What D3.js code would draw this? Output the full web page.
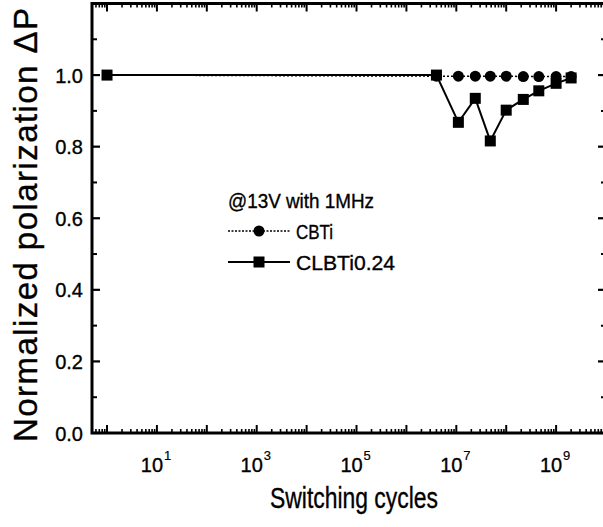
<!DOCTYPE html>
<html>
<head>
<meta charset="utf-8">
<script src="https://cdn.jsdelivr.net/npm/d3@7"></script>
<style>
  html, body { margin: 0; padding: 0; background: #fff; }
  svg { display: block; }
  text { font-family: "Liberation Sans", Arial, sans-serif; fill: #000; stroke: #000; stroke-width: 0.35px; }
</style>
</head>
<body>
<svg id="chart" width="603" height="527"></svg>
<script>
// Switching cycles (x) and normalized polarization (y) for each film
const cbtiCycles = [1, 4e6, 1.1e7, 2.4e7, 4.8e7, 1e8, 2.2e8, 4.5e8, 1e9, 2e9];
const cbtiValues = [1.0, 0.997, 0.997, 0.997, 0.997, 0.997, 0.996, 0.996, 0.996, 0.996];
const clbtiCycles = [1, 4e6, 1.1e7, 2.4e7, 4.8e7, 1e8, 2.2e8, 4.5e8, 1e9, 2e9];
const clbtiValues = [1.0, 1.0, 0.868, 0.935, 0.816, 0.902, 0.932, 0.956, 0.977, 0.992];

const xMajorTicks = [1, 1e1, 1e2, 1e3, 1e4, 1e5, 1e6, 1e7, 1e8, 1e9];
const xLabelExponents = [1, 3, 5, 7, 9];
const yMajorTicks = [0, 0.2, 0.4, 0.6, 0.8, 1.0];
const yMinorTicks = [0.1, 0.3, 0.5, 0.7, 0.9, 1.1];

const legendTitle = "@13V with 1MHz";
const seriesNames = ["CBTi", "CLBTi0.24"];
const xTitle = "Switching  cycles";
const yTitle = "Normalized  polarization  \u0394P";

const svg = d3.select("#chart");
const plotLeft = 92, plotRight = 606, plotTop = 3.5, plotBottom = 433;

const x = d3.scaleLog().domain([0.5, 1e10]).range([plotLeft, plotRight]);
const y = d3.scaleLinear().domain([0, 1.2]).range([plotBottom, plotTop]);

// minor log ticks: 2..9 within each decade
const xMinorTicks = [];
for (let e = -1; e <= 9; e++) {
  for (let k = 2; k <= 9; k++) {
    const v = k * Math.pow(10, e);
    if (v >= 0.5 && v <= 1e10) xMinorTicks.push(v);
  }
}

const axisG = svg.append("g").attr("stroke", "#000");

// inward ticks on all four sides
const majLen = 8, minLen = 4;
xMajorTicks.forEach(v => {
  axisG.append("line").attr("x1", x(v)).attr("x2", x(v)).attr("y1", plotBottom).attr("y2", plotBottom - majLen).attr("stroke-width", 2);
  axisG.append("line").attr("x1", x(v)).attr("x2", x(v)).attr("y1", plotTop).attr("y2", plotTop + majLen).attr("stroke-width", 2);
});
xMinorTicks.forEach(v => {
  axisG.append("line").attr("x1", x(v)).attr("x2", x(v)).attr("y1", plotBottom).attr("y2", plotBottom - minLen).attr("stroke-width", 1.6);
  axisG.append("line").attr("x1", x(v)).attr("x2", x(v)).attr("y1", plotTop).attr("y2", plotTop + minLen).attr("stroke-width", 1.6);
});
yMajorTicks.forEach(v => {
  axisG.append("line").attr("x1", plotLeft).attr("x2", plotLeft + majLen).attr("y1", y(v)).attr("y2", y(v)).attr("stroke-width", 2.2);
  axisG.append("line").attr("x1", plotRight).attr("x2", plotRight - majLen).attr("y1", y(v)).attr("y2", y(v)).attr("stroke-width", 2.2);
});
yMinorTicks.forEach(v => {
  axisG.append("line").attr("x1", plotLeft).attr("x2", plotLeft + minLen + 1).attr("y1", y(v)).attr("y2", y(v)).attr("stroke-width", 2);
  axisG.append("line").attr("x1", plotRight).attr("x2", plotRight - minLen - 1).attr("y1", y(v)).attr("y2", y(v)).attr("stroke-width", 2);
});

// frame
svg.append("rect")
  .attr("x", plotLeft).attr("y", plotTop)
  .attr("width", plotRight - plotLeft).attr("height", plotBottom - plotTop)
  .attr("fill", "none").attr("stroke", "#000").attr("stroke-width", 3);

// y tick labels
svg.append("g").selectAll("text").data(yMajorTicks).join("text")
  .attr("x", plotLeft - 9).attr("y", d => y(d) + 7.5)
  .attr("text-anchor", "end")
  .style("font-size", "20px")
  .text(d => d.toFixed(1));

// x tick labels (10^n)
const xl = svg.append("g").selectAll("g").data(xLabelExponents).join("g")
  .attr("transform", d => `translate(${x(Math.pow(10, d))},${plotBottom + 39})`);
xl.append("text")
  .attr("x", -5).attr("text-anchor", "middle")
  .style("font-size", "20px")
  .text("10");
xl.append("text")
  .attr("x", 7).attr("y", -12).attr("text-anchor", "start")
  .style("font-size", "13px").style("stroke-width", "0.2px")
  .text(d => d);

// axis titles (tall, narrow lettering)
svg.append("text")
  .attr("x", 270).attr("y", 508)
  .attr("textLength", 168).attr("lengthAdjust", "spacingAndGlyphs")
  .style("font-size", "30px")
  .text(xTitle);
svg.append("text")
  .attr("transform", "translate(37,442) rotate(-90)")
  .attr("textLength", 434).attr("lengthAdjust", "spacing")
  .style("font-size", "33px")
  .text(yTitle);

// series
const cbti = cbtiCycles.map((c, i) => ({ c, v: cbtiValues[i] }));
const clbti = clbtiCycles.map((c, i) => ({ c, v: clbtiValues[i] }));
const line = d3.line().x(d => x(d.c)).y(d => y(d.v));

svg.append("path").datum(cbti)
  .attr("d", line).attr("fill", "none").attr("stroke", "#000")
  .attr("stroke-width", 1.5).attr("stroke-dasharray", "2,2");
svg.append("g").selectAll("circle").data(cbti.slice(1)).join("circle")
  .attr("cx", d => x(d.c)).attr("cy", d => y(d.v)).attr("r", 5.5).attr("fill", "#000");

svg.append("path").datum(clbti)
  .attr("d", line).attr("fill", "none").attr("stroke", "#000")
  .attr("stroke-width", 2);
const sq = 11;
svg.append("g").selectAll("rect").data(clbti).join("rect")
  .attr("x", d => x(d.c) - sq / 2).attr("y", d => y(d.v) - sq / 2)
  .attr("width", sq).attr("height", sq).attr("fill", "#000");

// legend
const lg = svg.append("g").attr("transform", "translate(228,0)");
lg.append("text").attr("x", 0).attr("y", 208)
  .attr("textLength", 146).attr("lengthAdjust", "spacingAndGlyphs")
  .style("font-size", "21px")
  .text(legendTitle);
lg.append("line").attr("x1", 0).attr("x2", 62).attr("y1", 231).attr("y2", 231)
  .attr("stroke", "#000").attr("stroke-width", 1.5).attr("stroke-dasharray", "2,1.5");
lg.append("circle").attr("cx", 31).attr("cy", 231).attr("r", 5.5).attr("fill", "#000");
lg.append("text").attr("x", 68).attr("y", 239)
  .attr("textLength", 37).attr("lengthAdjust", "spacingAndGlyphs")
  .style("font-size", "21px").text(seriesNames[0]);
lg.append("line").attr("x1", 0).attr("x2", 62).attr("y1", 262).attr("y2", 262)
  .attr("stroke", "#000").attr("stroke-width", 2);
lg.append("rect").attr("x", 25.5).attr("y", 256.5).attr("width", 11).attr("height", 11).attr("fill", "#000");
lg.append("text").attr("x", 68).attr("y", 270)
  .attr("textLength", 99).attr("lengthAdjust", "spacingAndGlyphs")
  .style("font-size", "21px").text(seriesNames[1]);
</script>
</body>
</html>
